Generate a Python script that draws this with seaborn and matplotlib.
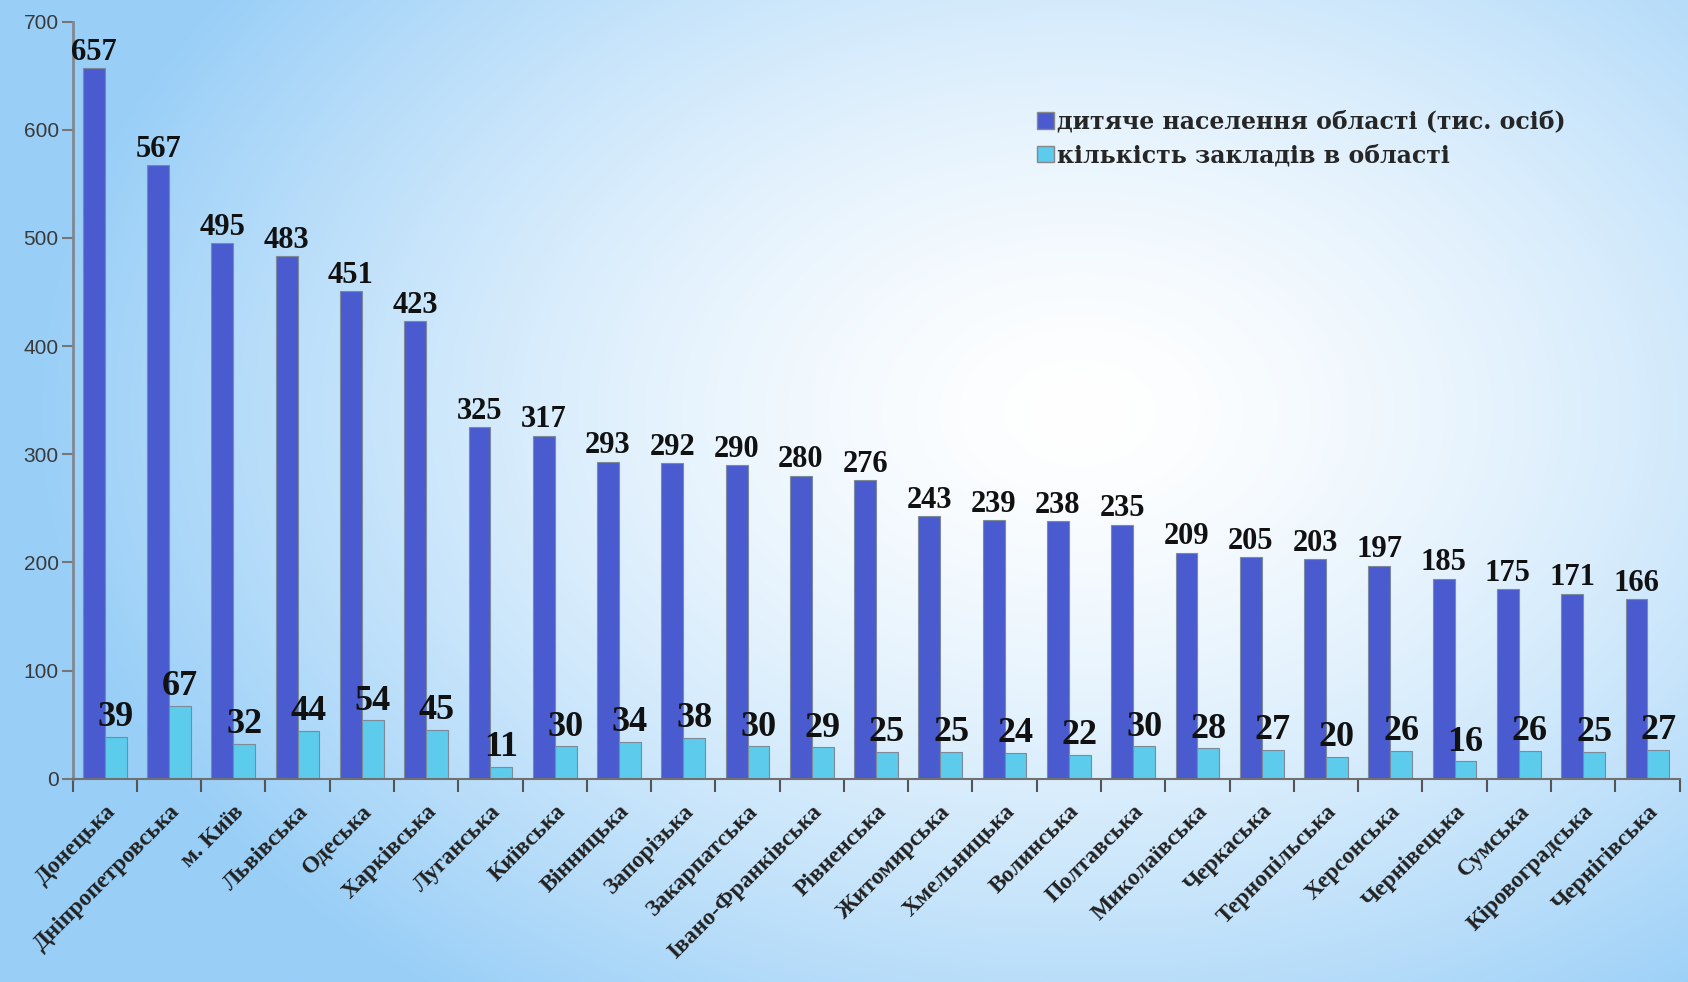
import numpy as np
import pandas as pd
import matplotlib
matplotlib.use("Agg")
import matplotlib.pyplot as plt
import seaborn as sns
from matplotlib.patches import Patch

regions = ["Донецька", "Дніпропетровська", "м. Київ", "Львівська", "Одеська",
           "Харківська", "Луганська", "Київська", "Вінницька", "Запорізька",
           "Закарпатська", "Івано-Франківська", "Рівненська", "Житомирська",
           "Хмельницька", "Волинська", "Полтавська", "Миколаївська", "Черкаська",
           "Тернопільська", "Херсонська", "Чернівецька", "Сумська",
           "Кіровоградська", "Чернігівська"]
children = [657, 567, 495, 483, 451, 423, 325, 317, 293, 292, 290, 280, 276,
            243, 239, 238, 235, 209, 205, 203, 197, 185, 175, 171, 166]
institutions = [39, 67, 32, 44, 54, 45, 11, 30, 34, 38, 30, 29, 25, 25, 24,
                22, 30, 28, 27, 20, 26, 16, 26, 25, 27]
series_names = ["дитяче населення області (тис. осіб)",
                "кількість закладів в області"]
y_ticks = [0, 100, 200, 300, 400, 500, 600, 700]

colors = ["#4a5bcf", "#5ccbec"]

sns.set_theme(style="white")
plt.rcParams['font.family'] = ['Liberation Serif', 'DejaVu Serif']

df = pd.DataFrame({
    "region": regions * 2,
    "value": children + institutions,
    "series": [series_names[0]] * len(regions) + [series_names[1]] * len(regions),
})

fig = plt.figure(figsize=(16.88, 9.82), dpi=100)

# background radial gradient
bg = fig.add_axes([0, 0, 1, 1], zorder=-10)
yy, xx = np.mgrid[0:1:400j, 0:1:700j]
r = np.sqrt(((xx - 0.64) / 0.62) ** 2 + ((yy - 0.42) / 0.75) ** 2)
r = np.clip(r, 0, 1)
c_in = np.array([1.0, 1.0, 1.0])
c_out = np.array([0.60, 0.81, 0.97])
img = c_in[None, None, :] * (1 - r[..., None] ** 1.5) + c_out[None, None, :] * (r[..., None] ** 1.5)
bg.imshow(img, aspect="auto", extent=[0, 1, 1, 0])
bg.set_xlim(0, 1); bg.set_ylim(1, 0)
bg.axis("off")

ax = fig.add_axes([0.043, 0.207, 0.952, 0.771])
ax.set_facecolor("none")
sns.barplot(data=df, x="region", y="value", hue="series", palette=colors,
            width=0.68, ax=ax, edgecolor="#7f8a99", linewidth=0.8,
            legend=False, saturation=1)

ax.bar_label(ax.containers[0], fontsize=22, fontweight="bold", padding=1,
             color="#111111")
ax.bar_label(ax.containers[1], fontsize=26, fontweight="bold", padding=2,
             color="#111111")

n = len(regions)
ax.set_xlim(-0.5, n - 0.5)
ax.set_ylim(0, 700)
ax.set_yticks(y_ticks)
ax.set_yticklabels([str(v) for v in y_ticks], family="Liberation Sans",
                   fontsize=15, color="#3a3a3a")
ax.set_xticks(range(n))
ax.set_xticklabels(regions, rotation=45, ha="right", rotation_mode="anchor",
                   fontsize=17, fontweight="bold", color="#222222")
ax.tick_params(axis="x", which="major", length=0, pad=16)
ax.set_xticks(np.arange(-0.5, n, 1.0), minor=True)
ax.tick_params(axis="x", which="minor", length=9, width=1.5, color="#555555",
               direction="out", bottom=True)
ax.tick_params(axis="y", length=8, width=1.5, color="#777777", left=True,
               direction="out", pad=2)
ax.set_xlabel("")
ax.set_ylabel("")
for s in ["top", "right"]:
    ax.spines[s].set_visible(False)
ax.spines["left"].set_color("#808890")
ax.spines["left"].set_linewidth(2)
ax.spines["bottom"].set_color("#707070")
ax.spines["bottom"].set_linewidth(1.5)

handles = [Patch(facecolor=colors[0], edgecolor="#888888"),
           Patch(facecolor=colors[1], edgecolor="#888888")]
fig.legend(handles, series_names, loc="upper left",
           bbox_to_anchor=(0.602, 0.91), frameon=False,
           prop={"family": "DejaVu Serif", "weight": "bold", "size": 17},
           handlelength=0.7, handleheight=0.7, handletextpad=0.15,
           labelspacing=0.4)

fig.savefig("out.png", dpi=100)
